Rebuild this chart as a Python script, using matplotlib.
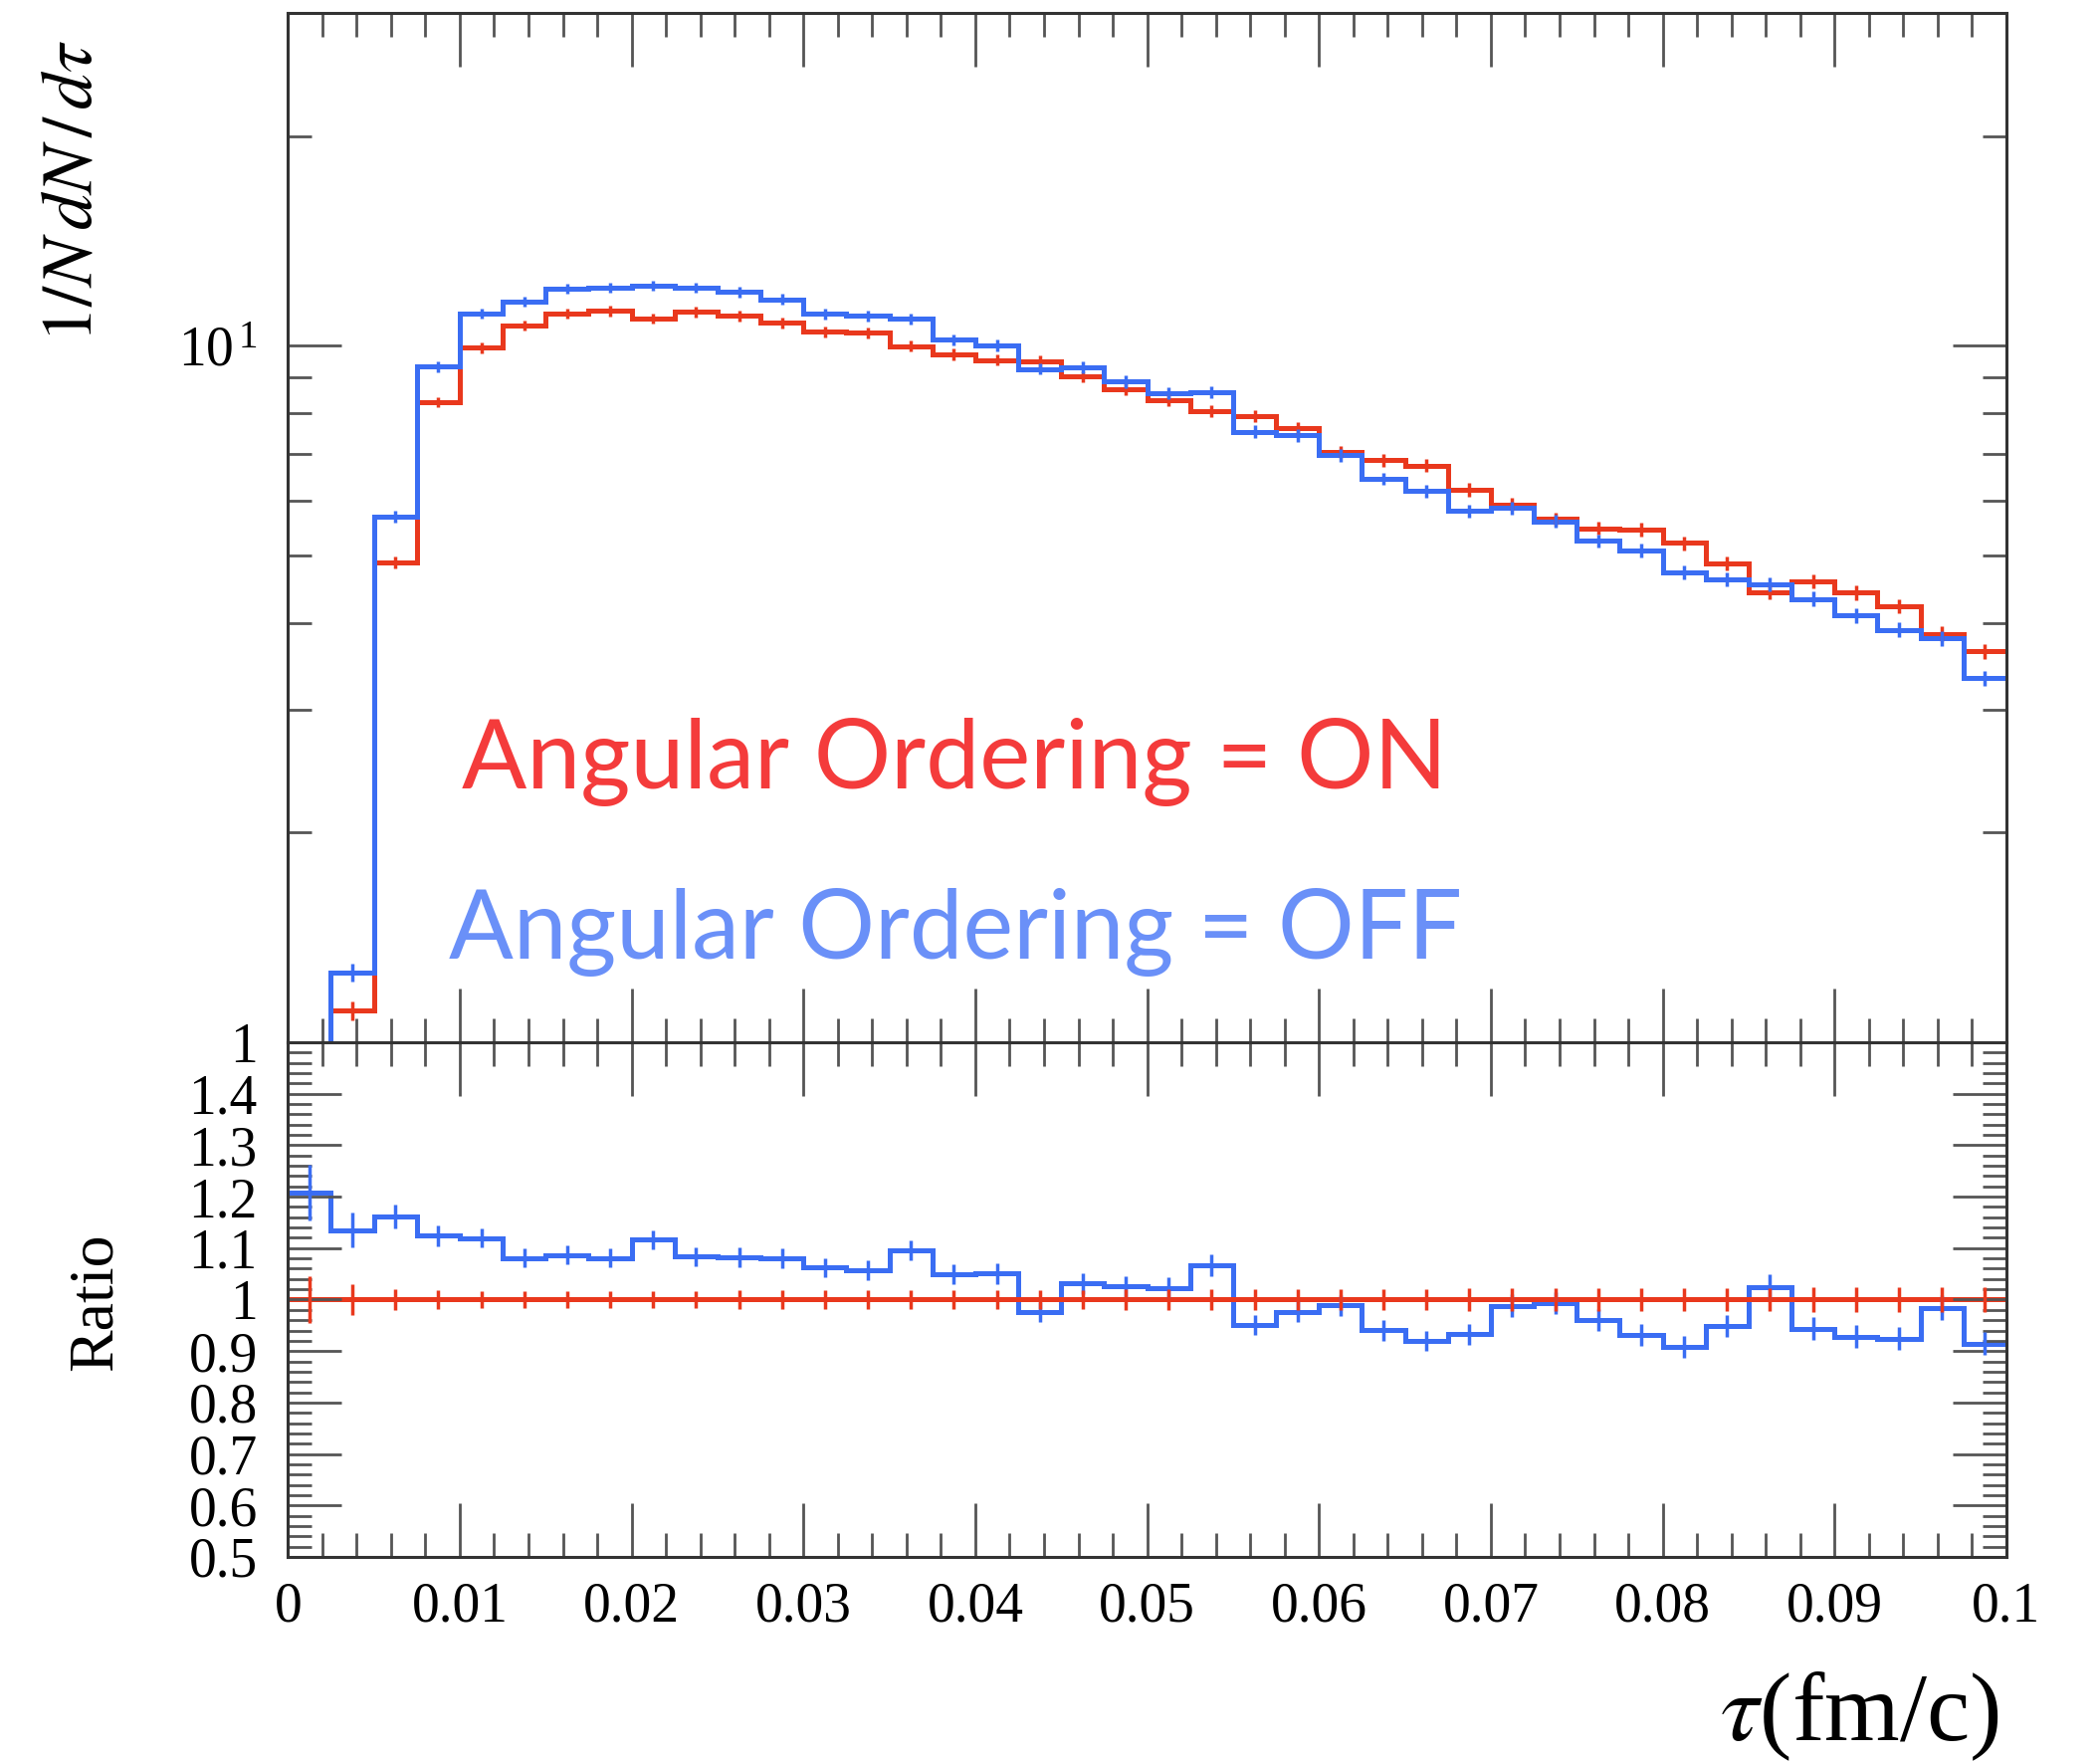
import numpy as np
import matplotlib.pyplot as plt
from matplotlib.ticker import MultipleLocator, LogLocator, NullFormatter

# tau binning: 40 bins of 0.0025 fm/c
edges = np.linspace(0.0, 0.1, 41)

# 1/N dN/dtau per bin, angular ordering on / off
ao_on = [0.72, 1.11, 4.89, 8.30, 9.93, 10.70, 11.12, 11.22, 10.94, 11.18,
         11.04, 10.79, 10.47, 10.44, 9.98, 9.72, 9.54, 9.49, 9.03, 8.66,
         8.36, 8.05, 7.92, 7.62, 7.04, 6.85, 6.73, 6.21, 5.92, 5.64,
         5.47, 5.45, 5.21, 4.87, 4.43, 4.59, 4.42, 4.23, 3.86, 3.64]
ao_off = [0.87, 1.26, 5.68, 9.33, 11.12, 11.56, 12.08, 12.13, 12.21, 12.12,
          11.95, 11.66, 11.12, 11.04, 10.94, 10.20, 10.02, 9.26, 9.31, 8.88,
          8.55, 8.58, 7.53, 7.44, 6.96, 6.44, 6.19, 5.79, 5.85, 5.60,
          5.25, 5.08, 4.73, 4.62, 4.54, 4.33, 4.10, 3.91, 3.80, 3.33]

# relative statistical uncertainty per bin
rel_err = [0.045, 0.030, 0.020, 0.018, 0.017, 0.017, 0.017, 0.017, 0.017, 0.017,
           0.018, 0.018, 0.018, 0.018, 0.018, 0.019, 0.019, 0.019, 0.019, 0.020,
           0.020, 0.020, 0.020, 0.021, 0.021, 0.021, 0.021, 0.022, 0.022, 0.022,
           0.022, 0.023, 0.023, 0.023, 0.023, 0.024, 0.024, 0.024, 0.025, 0.025]

xtick_vals = [0.0, 0.01, 0.02, 0.03, 0.04, 0.05, 0.06, 0.07, 0.08, 0.09, 0.1]
xtick_labels = ['0', '0.01', '0.02', '0.03', '0.04', '0.05',
                '0.06', '0.07', '0.08', '0.09', '0.1']
rtick_vals = [0.5, 0.6, 0.7, 0.8, 0.9, 1.0, 1.1, 1.2, 1.3, 1.4]
rtick_labels = ['0.5', '0.6', '0.7', '0.8', '0.9', '1', '1.1', '1.2', '1.3', '1.4']

RED = '#e9381d'
BLUE = '#3a6df3'

plt.rcParams['font.family'] = 'Liberation Serif'
plt.rcParams['mathtext.fontset'] = 'stix'

on = np.array(ao_on)
off = np.array(ao_off)
err = np.array(rel_err)
centers = 0.5 * (edges[1:] + edges[:-1])
ratio_on = on / on
ratio_off = off / on

fig = plt.figure(figsize=(21.1, 17.71), dpi=100)
ax = fig.add_axes([0.1371, 0.4088, 0.8183, 0.5836])
axr = fig.add_axes([0.1371, 0.1169, 0.8183, 0.2919], sharex=ax)

# main distribution
ax.stairs(on, edges, color=RED, lw=3.6, baseline=None)
ax.errorbar(centers, on, yerr=on * err, fmt='none', ecolor=RED, elinewidth=2.5)
ax.stairs(off, edges, color=BLUE, lw=3.6, baseline=None)
ax.errorbar(centers, off, yerr=off * err, fmt='none', ecolor=BLUE, elinewidth=2.5)
ax.set_yscale('log')
ax.set_ylim(1, 30)
ax.set_xlim(0, 0.1)

ax.text(0.1012, 0.2467, 'Angular Ordering = ON', transform=ax.transAxes,
        family='Lato', fontsize=69.5, color='#f43b3b', ha='left', va='baseline')
ax.text(0.0937, 0.0813, 'Angular Ordering = OFF', transform=ax.transAxes,
        family='Lato', fontsize=69, color='#6a90f8', ha='left', va='baseline')

# ratio to angular ordering on
axr.stairs(ratio_off, edges, color=BLUE, lw=3.6, baseline=None)
axr.errorbar(centers, ratio_off, yerr=ratio_off * err, fmt='none', ecolor=BLUE, elinewidth=2.5)
axr.stairs(ratio_on, edges, color=RED, lw=3.6, baseline=None)
axr.errorbar(centers, ratio_on, yerr=err, fmt='none', ecolor=RED, elinewidth=2.5)
axr.set_ylim(0.5, 1.5)

# ticks and frames
for a in (ax, axr):
    a.xaxis.set_major_locator(MultipleLocator(0.01))
    a.xaxis.set_minor_locator(MultipleLocator(0.002))
    a.tick_params(which='both', direction='in', top=True, right=True,
                  labelsize=40, color='#555555')
    a.tick_params(which='major', length=39, width=2)
    a.tick_params(which='minor', length=17, width=2)
    a.tick_params(axis='y', pad=22)
    a.tick_params(axis='x', pad=18)
    for s in a.spines.values():
        s.set_linewidth(2.2)
        s.set_color('#333333')

ax.set_yticks([1, 10], ['1', r'$\mathdefault{10^{\,1}}$'])
ax.yaxis.set_minor_locator(LogLocator(base=10, subs=range(2, 10)))
ax.yaxis.set_minor_formatter(NullFormatter())
ax.tick_params(labelbottom=False)

axr.set_yticks(rtick_vals, rtick_labels)
axr.yaxis.set_minor_locator(MultipleLocator(0.02))
axr.set_xticks(xtick_vals, xtick_labels)

ax.set_ylabel(r'$1/N\,dN\,/\,d\tau$', fontsize=52, loc='top')
ax.yaxis.set_label_coords(-0.106, 0.974)
axr.set_ylabel('Ratio', fontsize=46)
axr.yaxis.set_label_coords(-0.095, 0.495)

fig.text(2009 / 2110, 1 - 1748 / 1771, r'$\tau$(fm/c)', fontsize=70,
         ha='right', va='baseline')

fig.savefig('out.png', dpi=100)
